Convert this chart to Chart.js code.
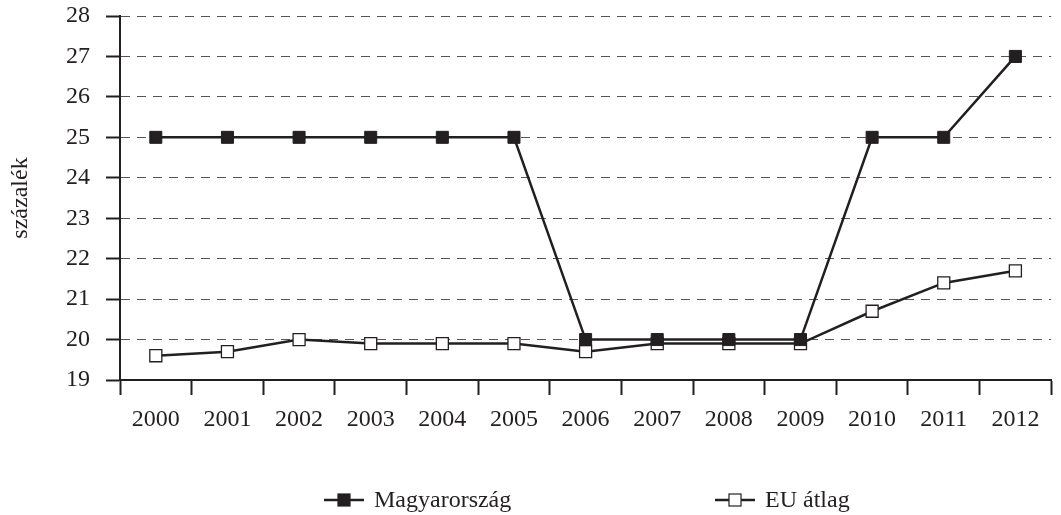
<!DOCTYPE html>
<html>
<head>
<meta charset="utf-8">
<script src="https://cdn.jsdelivr.net/npm/chart.js@4/dist/chart.umd.min.js"></script>
<style>
  html, body { margin: 0; padding: 0; background: #ffffff; }
  #wrap { width: 1061px; height: 515px; }
</style>
</head>
<body>
<div id="wrap"><canvas id="c" width="1061" height="515"></canvas></div>
<script>
// ---- Data ----
const years = ['2000','2001','2002','2003','2004','2005','2006','2007','2008','2009','2010','2011','2012'];
const hungary = [25, 25, 25, 25, 25, 25, 20, 20, 20, 20, 25, 25, 27];
const euAverage = [19.6, 19.7, 20.0, 19.9, 19.9, 19.9, 19.7, 19.9, 19.9, 19.9, 20.7, 21.4, 21.7];
const seriesNames = ['Magyarország', 'EU átlag'];
const yMin = 19;
const yMax = 28;
const yStep = 1;
const yTitle = 'százalék';

// ---- Styles ----
const INK = '#231f20';
const FONT = '"Liberation Serif", "Times New Roman", serif';

const legendPlugin = {
  id: 'customLegend',
  afterDraw(chart) {
    const ctx = chart.ctx;
    const starts = [324, 715];
    const y = 500;
    chart.data.datasets.forEach((ds, i) => {
      const x0 = starts[i];
      ctx.save();
      ctx.strokeStyle = ds.borderColor;
      ctx.lineWidth = 2.5;
      ctx.beginPath();
      ctx.moveTo(x0, y);
      ctx.lineTo(x0 + 40, y);
      ctx.stroke();
      ctx.fillStyle = ds.pointBackgroundColor;
      ctx.fillRect(x0 + 14, y - 6, 12, 12);
      ctx.strokeStyle = ds.pointBorderColor;
      ctx.lineWidth = 1.2;
      ctx.strokeRect(x0 + 14, y - 6, 12, 12);
      ctx.fillStyle = INK;
      ctx.font = '24px ' + FONT;
      ctx.textBaseline = 'middle';
      ctx.textAlign = 'left';
      ctx.fillText(ds.label, x0 + 50, y + 1);
      ctx.restore();
    });
  }
};

new Chart(document.getElementById('c'), {
  type: 'line',
  data: {
    labels: years,
    datasets: [
      {
        label: seriesNames[0],
        data: hungary,
        borderColor: INK,
        borderWidth: 2.5,
        pointStyle: 'rect',
        pointRadius: 8.5,
        pointBackgroundColor: INK,
        pointBorderColor: INK,
        pointBorderWidth: 1,
        tension: 0
      },
      {
        label: seriesNames[1],
        data: euAverage,
        borderColor: INK,
        borderWidth: 2.5,
        pointStyle: 'rect',
        pointRadius: 8.5,
        pointBackgroundColor: '#ffffff',
        pointBorderColor: INK,
        pointBorderWidth: 1.3,
        tension: 0
      }
    ]
  },
  options: {
    responsive: false,
    animation: false,
    devicePixelRatio: 1,
    layout: { padding: { top: 16, right: 7, left: 0, bottom: 0 } },
    plugins: {
      legend: { display: false },
      tooltip: { enabled: false }
    },
    scales: {
      x: {
        type: 'category',
        offset: true,
        afterFit: (s) => { s.height = 135; s.paddingLeft = 0; s.paddingRight = 0; },
        grid: {
          offset: true,
          drawOnChartArea: false,
          drawTicks: true,
          tickLength: 15,
          tickColor: INK,
          tickWidth: 2
        },
        border: { display: true, color: INK, width: 2 },
        ticks: {
          color: INK,
          font: { family: FONT, size: 24 },
          padding: 10,
          maxRotation: 0,
          autoSkip: false
        }
      },
      y: {
        min: yMin,
        max: yMax,
        afterFit: (s) => { s.width = 120; s.paddingTop = 0; s.paddingBottom = 0; },
        ticks: {
          stepSize: yStep,
          color: INK,
          font: { family: FONT, size: 24 },
          padding: 16
        },
        grid: {
          color: '#555555',
          lineWidth: 1,
          tickLength: 14,
          tickColor: INK,
          tickWidth: 2
        },
        border: { display: true, color: INK, width: 2, dash: [9, 7] },
        title: {
          display: true,
          text: yTitle,
          color: INK,
          font: { family: FONT, size: 24 },
          padding: { top: 6, bottom: 0 }
        }
      }
    }
  },
  plugins: [legendPlugin]
});
</script>
</body>
</html>
